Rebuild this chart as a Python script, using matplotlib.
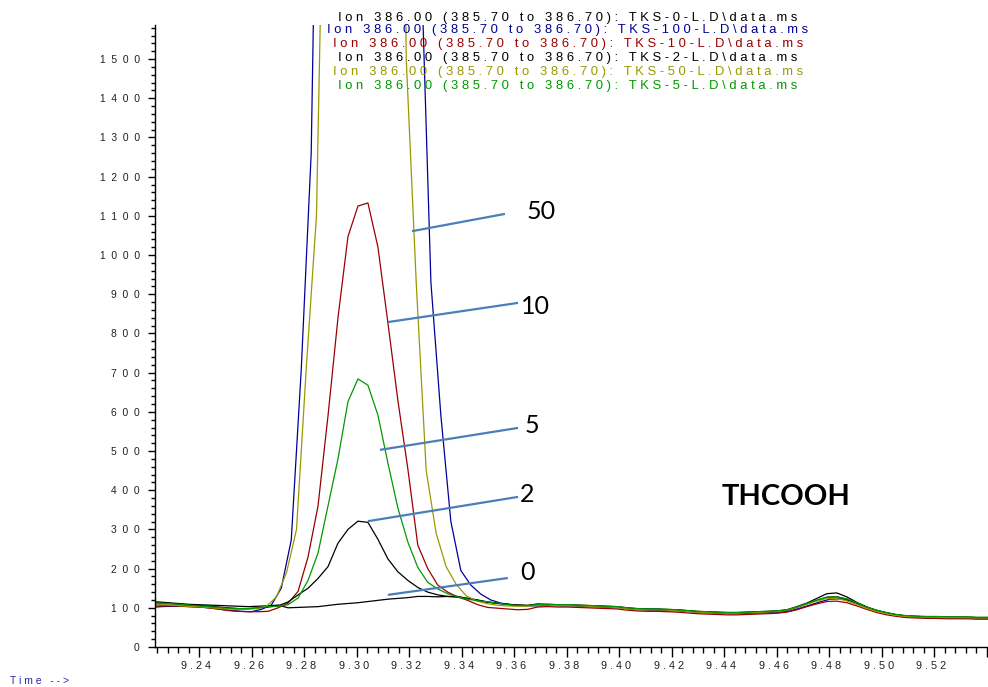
import numpy as np
import matplotlib
matplotlib.use("Agg")
import matplotlib.pyplot as plt
import matplotlib.transforms as mtransforms
from matplotlib.ticker import MultipleLocator, FixedLocator, FuncFormatter

# ---------------- data ----------------
scan_step = 0.0038          # min between scans
scan_count = 86
scan_start = {               # first scan time of each file (min)
    "TKS-0": 9.2207, "TKS-100": 9.2219, "TKS-10": 9.2207,
    "TKS-2": 9.2207, "TKS-50": 9.2201, "TKS-5": 9.2207,
}

tks0 = [116, 115, 113, 111, 109, 108, 107, 106, 105, 104, 103, 104, 105,
        107, 100, 101, 102, 103, 106, 109, 111, 113, 116, 119, 122, 124, 126,
        129, 129, 128, 129, 129, 124, 119, 114, 111, 109, 107, 106,
        110, 109, 108, 107, 107, 106, 105, 104, 103, 100, 98, 97, 97, 96, 95,
        93, 91, 90, 89, 88, 88, 89, 90, 91, 92, 95, 103, 112, 124, 136, 138,
        128, 114, 102, 93, 87, 82, 79, 78, 77, 77, 76, 76, 76, 75, 75, 75]

tks100 = [101, 103, 104, 104, 103, 102, 99, 96, 93, 91, 90, 96, 107,
          150, 273, 707, 1260, 2800, 4500, 5800, 6500, 6800, 6600, 6000, 5000,
          3900, 2600, 1768, 930, 590, 320, 195, 158, 135, 120, 112, 108, 106, 105,
          105, 106, 105, 105, 104, 103, 102, 101, 100, 97, 95, 94, 94, 93, 92,
          90, 88, 87, 86, 85, 85, 86, 87, 88, 89, 92, 99, 107, 115, 122, 123,
          118, 109, 99, 91, 85, 80, 77, 76, 75, 75, 74, 74, 74, 73, 73, 73]

tks10 = [104, 105, 105, 104, 103, 102, 100, 97, 93, 91, 90, 90, 91,
         100, 112, 142, 230, 360, 590, 840, 1047, 1125, 1133, 1021, 828, 630,
         455, 260, 200, 158, 140, 128, 119, 108, 101, 99, 97, 95, 96,
         102, 103, 102, 102, 101, 100, 99, 98, 97, 94, 92, 91, 91, 90, 89,
         87, 85, 84, 83, 82, 82, 83, 84, 85, 86, 89, 95, 103, 110, 116, 117,
         113, 105, 96, 88, 82, 78, 75, 74, 73, 73, 72, 72, 72, 71, 71, 71]

tks2 = [112, 112, 111, 109, 107, 106, 104, 102, 100, 98, 98, 100, 102,
        105, 115, 133, 150, 175, 205, 265, 300, 321, 318, 275, 225, 192, 170,
        152, 140, 133, 129, 127, 124, 120, 115, 112, 109, 107, 106,
        107, 108, 107, 107, 106, 105, 104, 103, 102, 99, 97, 96, 96, 95, 94,
        92, 90, 89, 88, 87, 87, 88, 89, 90, 91, 94, 101, 110, 119, 127, 128,
        122, 112, 101, 93, 87, 82, 79, 78, 77, 77, 76, 76, 76, 75, 75, 75]

tks50 = [110, 109, 108, 106, 104, 103, 101, 99, 97, 96, 96, 98, 104,
         128, 190, 300, 720, 1100, 2400, 3400, 4200, 4700, 4900, 4800, 4500,
         4000, 1500, 930, 450, 290, 205, 160, 131, 118, 111, 107, 105, 104, 104,
         106, 107, 106, 106, 105, 104, 103, 102, 101, 98, 96, 95, 95, 94, 93,
         91, 89, 88, 87, 86, 86, 87, 88, 89, 90, 93, 100, 108, 116, 123, 124,
         119, 110, 100, 92, 86, 81, 78, 77, 76, 76, 75, 75, 75, 74, 74, 74]

tks5 = [111, 112, 111, 109, 107, 105, 103, 101, 99, 98, 98, 100, 103,
        104, 108, 125, 170, 240, 360, 480, 626, 684, 668, 592, 470, 355, 268,
        203, 165, 148, 136, 128, 122, 118, 115, 112, 108, 106, 106,
        108, 109, 108, 108, 107, 106, 105, 104, 103, 100, 98, 97, 97, 96, 95,
        93, 91, 90, 89, 88, 88, 89, 90, 91, 92, 95, 102, 111, 120, 127, 128,
        123, 113, 102, 94, 88, 83, 80, 79, 78, 78, 77, 77, 77, 76, 76, 76]

series_names = ["TKS-0", "TKS-100", "TKS-10", "TKS-2", "TKS-50", "TKS-5"]
series_values = [tks0, tks100, tks10, tks2, tks50, tks5]
series_colors = ["#000000", "#000099", "#990000", "#000000", "#999900", "#009900"]

legend_template = "Ion 386.00 (385.70 to 386.70): {}-L.D\\data.ms"

# concentration call-outs: label, line start (t, abundance), line end, label anchor
callout_labels = ["50", "10", "5", "2", "0"]
callout_start = [(9.3211, 1061), (9.3119, 829), (9.3089, 503), (9.3043, 321), (9.3119, 133)]
callout_end = [(9.3565, 1105), (9.3615, 878), (9.3615, 559), (9.3615, 383), (9.3576, 176)]
callout_text = [(9.3649, 1112), (9.3626, 870), (9.3641, 564), (9.3622, 390), (9.3622, 191)]
compound_name = "THCOOH"
compound_pos = (9.4636, 383)

x_range = (9.2232, 9.5405)
y_range = (0, 1587)
x_major = [9.24, 9.26, 9.28, 9.30, 9.32, 9.34, 9.36, 9.38, 9.40, 9.42, 9.44,
           9.46, 9.48, 9.50, 9.52, 9.54]
x_labeled_max = 9.52

# ---------------- figure ----------------
W, H = 988, 687
fig = plt.figure(figsize=(W / 100, H / 100), dpi=100)
ax = fig.add_axes([155 / W, (H - 647) / H, 833 / W, 622 / H])

for name, vals, col in zip(series_names, series_values, series_colors):
    t = scan_start[name] + scan_step * np.arange(len(vals))
    ax.plot(t, vals, color=col, lw=0.9, solid_joinstyle="miter")

ax.set_xlim(*x_range)
ax.set_ylim(*y_range)
for s in ("top", "right"):
    ax.spines[s].set_visible(False)
for s in ("left", "bottom"):
    ax.spines[s].set_linewidth(1.0)


def spaced(s, sep=" "):
    return sep.join(s)


ax.xaxis.set_major_locator(FixedLocator(x_major))
ax.xaxis.set_minor_locator(MultipleLocator(0.004))
ax.xaxis.set_major_formatter(FuncFormatter(
    lambda v, p: spaced(f"{v:.2f}") if v <= x_labeled_max + 1e-6 else ""))
ax.yaxis.set_major_locator(MultipleLocator(100))
ax.yaxis.set_minor_locator(MultipleLocator(20))
ax.yaxis.set_major_formatter(FuncFormatter(lambda v, p: spaced(f"{int(round(v))}", "  ")))

ax.tick_params(axis="x", which="major", direction="out", length=7, width=1, pad=3)
ax.tick_params(axis="x", which="minor", direction="out", length=4, width=1)
ax.tick_params(axis="y", which="major", direction="out", length=5, width=1, pad=6)
ax.tick_params(axis="y", which="minor", direction="out", length=3, width=1)

shift_left = mtransforms.ScaledTranslation(-3 / 100, 0, fig.dpi_scale_trans)
for lab in ax.get_xticklabels():
    lab.set_fontfamily("Liberation Sans")
    lab.set_fontsize(7.8)
    lab.set_color("#202020")
    lab.set_transform(lab.get_transform() + shift_left)
for lab in ax.get_yticklabels():
    lab.set_fontfamily("Liberation Sans")
    lab.set_fontsize(7.4)
    lab.set_color("#202020")

# header lines (one per file)
row_y = [17.7, 30.5, 44.3, 57.7, 71.7, 86.0]
for name, col, ry in zip(series_names, series_colors, row_y):
    fig.text(568 / W, 1 - ry / H, spaced(legend_template.format(name)),
             ha="center", va="center", color=col, fontsize=9.4,
             family="Liberation Sans")

# call-outs
callout_color = "#4A7EBB"
for lab, p0, p1, pt in zip(callout_labels, callout_start, callout_end, callout_text):
    ax.plot([p0[0], p1[0]], [p0[1], p1[1]], color=callout_color, lw=1.6,
            solid_capstyle="butt", clip_on=False)
    ax.text(pt[0], pt[1], lab, ha="left", va="center", fontsize=18,
            family="Lato", color="black")

ax.text(compound_pos[0], compound_pos[1], compound_name, ha="center", va="center",
        fontsize=21, family="Lato", fontweight="bold", color="black")

fig.text(10 / W, 1 - 681 / H, spaced("Time -->"), ha="left", va="center",
         fontsize=7.5, family="Liberation Sans", color="#2828B0")

fig.savefig("out.png", dpi=100)
